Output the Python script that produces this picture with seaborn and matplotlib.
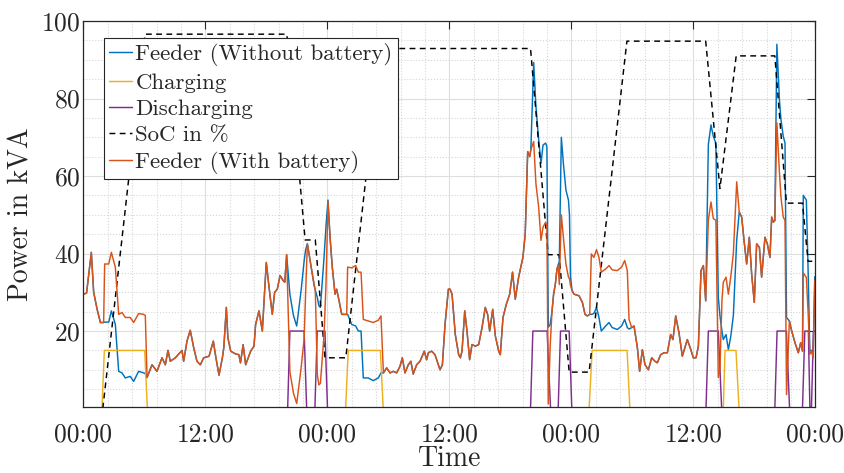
import numpy as np
import pandas as pd
import matplotlib
matplotlib.use("Agg")
import matplotlib.pyplot as plt
import seaborn as sns
from matplotlib.ticker import MultipleLocator, FixedLocator

# ---------------- data (hours since first midnight) ----------------
t_feeder = [0.0, 0.3, 0.77, 1.0, 1.35, 1.66, 1.98, 2.08, 2.48, 2.74, 3.13, 3.46, 3.79, 4.11, 4.6, 4.93,
            5.42, 5.92, 6.08, 6.25, 6.74, 7.23, 7.72, 8.05, 8.31, 8.54, 9.03, 9.69, 9.85, 10.18, 10.5,
            10.84, 11.16, 11.49, 11.82, 12.35, 12.77, 13.0, 13.33, 13.66, 13.8, 14.05, 14.2, 14.48,
            14.95, 15.28, 15.44, 15.7, 15.95, 16.44, 16.77, 16.93, 17.26, 17.59, 17.98, 18.25, 18.57,
            18.8, 19.06, 19.33, 19.65, 19.8, 19.98, 20.3, 20.65, 20.97, 21.4, 21.7, 21.85, 22.02,
            22.34, 22.67, 22.8, 23.0, 23.15, 23.3, 23.49, 23.66, 23.85, 24.05, 24.25, 24.47, 24.74,
            24.9, 25.07, 25.4, 25.72, 25.89, 25.98, 26.38, 26.77, 27.03, 27.3, 27.52, 28.0, 28.5,
            29.0, 29.26, 29.5, 29.82, 30.15, 30.48, 30.8, 31.13, 31.36, 31.62, 31.95, 32.2, 32.43,
            32.77, 33.1, 33.52, 33.75, 33.92, 34.25, 34.57, 35.07, 35.3, 35.56, 35.89, 36.05, 36.25,
            36.57, 36.9, 37.07, 37.23, 37.5, 37.72, 37.98, 38.21, 38.54, 38.87, 39.2, 39.52, 39.75,
            39.95, 40.25, 40.51, 40.84, 41.0, 41.26, 41.59, 41.92, 42.2, 42.47, 42.8, 43.22, 43.45,
            43.69, 43.89, 44.0, 44.28, 44.5, 44.77, 45.0, 45.2, 45.46, 45.58, 45.72, 45.9, 46.08,
            46.24, 46.41, 46.57, 46.69, 46.8, 47.0, 47.2, 47.45, 47.7, 47.8, 47.9, 48.05, 48.25,
            48.74, 49.07, 49.33, 49.56, 49.79, 49.95, 50.2, 50.46, 50.7, 50.93, 51.36, 51.69, 52.0,
            52.5, 52.93, 53.23, 53.49, 53.66, 53.92, 54.15, 54.48, 54.7, 54.97, 55.23, 55.56, 55.89,
            56.21, 56.44, 56.77, 57.1, 57.43, 57.75, 57.98, 58.25, 58.57, 58.9, 59.39, 59.7, 59.98,
            60.25, 60.48, 60.74, 60.97, 61.2, 61.46, 61.72, 61.95, 62.2, 62.44, 62.6, 62.8, 62.93,
            63.2, 63.43, 63.66, 63.92, 64.25, 64.5, 64.74, 64.97, 65.23, 65.49, 65.72, 65.98, 66.21,
            66.48, 66.7, 67.03, 67.26, 67.52, 67.69, 67.85, 68.0, 68.2, 68.45, 68.6, 68.83, 69.0,
            69.15, 69.43, 69.66, 69.98, 70.31, 70.54, 70.72, 70.8, 71.1, 71.27, 71.44, 71.6, 71.77,
            71.93, 72.0]

feeder_without = [29.5, 29.8, 40.3, 30.0, 25.5, 22.2, 22.2, 22.3, 22.3, 25.2, 21.7, 9.6, 9.2, 7.9, 8.3, 7.0,
                  9.6, 9.2, 9.0, 8.0, 11.3, 9.6, 13.1, 11.3, 15.0, 12.2, 13.1, 15.0, 12.2, 17.4, 20.2,
                  15.7, 12.2, 11.3, 13.1, 13.5, 17.4, 13.5, 8.6, 13.1, 15.7, 26.1, 18.3, 14.8,
                  14.1, 13.9, 11.8, 16.5, 11.3, 14.8, 16.1, 21.7, 25.2, 20.0, 37.7, 31.3, 24.3,
                  30.0, 30.8, 34.3, 33.0, 32.6, 39.7, 29.5, 24.0, 21.3, 30.4, 38.0, 41.0, 42.5,
                  37.3, 32.1, 30.5, 28.7, 26.5, 26.1, 33.0, 39.0, 47.0, 53.8, 44.2, 36.5, 29.5,
                  30.8, 28.7, 24.3, 24.3, 24.3, 24.3, 21.7, 21.3, 20.0, 20.0, 7.9, 7.9, 7.2,
                  7.9, 9.2, 9.2, 10.5, 9.2, 9.6, 9.2, 10.9, 13.1, 9.2, 11.3, 12.2, 8.9,
                  11.3, 12.2, 14.8, 12.6, 14.4, 14.8, 13.9, 10.0, 11.3, 21.7, 30.8, 30.8, 29.5,
                  19.1, 13.9, 13.1, 14.8, 25.2, 20.0, 12.6, 16.5, 16.1, 16.5, 20.9, 26.1, 24.3,
                  20.0, 25.6, 18.7, 14.8, 13.9, 23.5, 26.9, 29.5, 35.2, 28.2, 33.9, 39.0, 45.1,
                  66.3, 65.0, 66.8, 89.3, 78.0, 69.4, 63.3, 68.0, 68.5, 67.5, 21.0, 21.7, 25.0,
                  29.5, 32.1, 36.0, 37.0, 38.0, 70.0, 63.3, 56.4, 53.8, 50.0, 34.0, 30.5, 29.5,
                  29.1, 27.4, 24.3, 23.9, 24.3, 24.3, 24.5, 26.1, 23.5, 20.0, 21.3, 22.2, 20.9,
                  20.4, 21.3, 23.0, 20.9, 20.5, 20.9, 21.3, 15.7, 9.6, 15.2, 11.3, 10.0, 13.1,
                  12.2, 11.8, 13.9, 14.4, 14.4, 19.1, 17.8, 23.9, 19.6, 13.5, 17.8, 15.5, 13.1,
                  13.1, 16.1, 35.6, 36.9, 27.8, 68.1, 73.2, 70.2, 68.5, 28.7, 24.0, 20.0, 17.8,
                  19.1, 15.2, 18.5, 24.0, 43.5, 50.7, 49.4, 43.4, 37.3, 44.2, 34.7, 27.4, 42.5,
                  41.6, 33.9, 44.2, 42.5, 39.0, 49.4, 48.1, 48.5, 94.0, 79.7, 74.6, 70.2, 68.5,
                  23.5, 22.6, 20.0, 17.0, 14.4, 17.0, 14.8, 55.0, 53.8, 36.0, 15.0, 15.0, 14.0,
                  34.0, 34.0]

feeder_with = [29.5, 29.8, 40.3, 30.0, 25.5, 22.2, 22.2, 37.3, 37.3, 40.3, 36.5, 24.3, 24.8, 23.5, 23.5, 22.2,
               24.5, 24.3, 24.0, 8.0, 11.3, 9.6, 13.1, 11.3, 15.0, 12.2, 13.1, 15.0, 12.2, 17.4, 20.2,
               15.7, 12.2, 11.3, 13.1, 13.5, 17.4, 13.5, 8.6, 13.1, 15.7, 26.1, 18.3, 14.8,
               14.1, 13.9, 11.8, 16.5, 11.3, 14.8, 16.1, 21.7, 25.2, 20.0, 37.7, 31.3, 24.3,
               30.0, 30.8, 34.3, 33.0, 32.6, 39.7, 9.5, 4.0, 1.3, 10.4, 18.0, 30.0, 42.5,
               37.3, 32.1, 30.5, 8.7, 6.1, 6.5, 13.0, 19.0, 32.0, 53.3, 44.2, 36.5, 29.5,
               30.8, 28.7, 24.3, 24.3, 24.3, 36.5, 36.3, 36.9, 35.2, 35.2, 23.0, 22.6, 22.2,
               22.8, 23.9, 9.2, 10.5, 9.2, 9.6, 9.2, 10.9, 13.1, 9.2, 11.3, 12.2, 8.9,
               11.3, 12.2, 14.8, 12.6, 14.4, 14.8, 13.9, 10.0, 11.3, 21.7, 30.8, 30.8, 29.5,
               19.1, 13.9, 13.1, 14.8, 25.2, 20.0, 12.6, 16.5, 16.1, 16.5, 20.9, 26.1, 24.3,
               20.0, 25.6, 18.7, 14.8, 13.9, 23.5, 26.9, 29.5, 35.2, 28.2, 33.9, 39.0, 45.1,
               66.3, 65.0, 66.8, 68.9, 58.0, 52.0, 43.4, 46.8, 48.1, 47.0, 1.2, 16.0, 25.0,
               29.5, 32.1, 36.0, 37.0, 32.0, 50.0, 44.2, 37.3, 33.9, 33.5, 31.8, 30.5, 29.5,
               29.1, 27.4, 24.3, 23.9, 24.3, 39.9, 39.0, 41.0, 39.0, 35.2, 36.0, 36.9, 35.8,
               35.6, 36.5, 38.2, 35.6, 23.0, 20.9, 21.3, 15.7, 9.6, 15.2, 11.3, 10.0, 13.1,
               12.2, 11.8, 13.9, 14.4, 14.4, 19.1, 17.8, 23.9, 19.6, 13.5, 17.8, 15.5, 13.1,
               13.1, 16.1, 35.6, 36.9, 27.8, 48.6, 53.3, 49.0, 48.6, 8.0, 10.0, 28.0, 32.6,
               33.9, 29.5, 33.9, 40.0, 58.5, 50.7, 49.4, 43.4, 37.3, 44.2, 34.7, 27.4, 42.5,
               41.6, 33.9, 44.2, 42.5, 39.0, 49.4, 48.1, 48.5, 73.7, 61.0, 54.6, 49.4, 48.5,
               3.6, 22.6, 20.0, 17.0, 14.4, 17.0, 14.8, 35.0, 33.8, 25.0, 14.0, 14.8, 13.1,
               33.0, 33.0]

t_charge = [0.0, 1.82, 2.05, 6.02, 6.28, 25.78, 26.04, 29.2, 29.48, 49.73, 50.03, 53.47, 53.74,
            62.93, 63.1, 64.18, 64.48, 72.0]
charging = [0, 0, 15, 15, 0, 0, 15, 15, 0, 0, 15, 15, 0, 0, 15, 15, 0, 0]

t_discharge = [0.0, 20.08, 20.3, 21.7, 21.95, 22.76, 22.99, 23.75, 24.0, 43.97, 44.2, 45.6, 45.94,
               46.69, 46.92, 47.77, 48.03, 61.23, 61.46, 62.44, 62.77, 68.0, 68.22, 69.14, 69.45,
               70.72, 70.95, 71.3, 71.45, 71.6, 71.8, 72.0]
discharging = [0, 0, 20, 20, 0, 0, 20, 20, 0, 0, 20, 20, 0, 0, 20, 20, 0, 0, 20, 20, 0, 0, 20, 20, 0,
               0, 20, 20, 0, 0, 20, 20]

t_soc = [1.9, 6.05, 20.0, 21.8, 22.8, 23.75, 25.8, 29.2, 43.97, 45.7, 46.78, 47.77, 49.73, 53.45,
         61.2, 62.6, 64.2, 68.0, 69.14, 70.72, 71.27, 72.0]
soc = [0, 96.6, 96.6, 43.5, 43.5, 13.1, 13.1, 92.9, 92.9, 39.7, 39.7, 9.4, 9.4, 94.8,
       94.8, 56.8, 91.0, 91.0, 53.0, 53.0, 38.0, 38.0]

tick_hours = [0, 12, 24, 36, 48, 60, 72]
tick_labels = ["00:00", "12:00", "00:00", "12:00", "00:00", "12:00", "00:00"]
y_ticks = [20, 40, 60, 80, 100]

# ---------------- style ----------------
sns.set_theme(style="white")
plt.rcParams["font.family"] = ["cmr10", "DejaVu Serif"]
plt.rcParams["axes.formatter.use_mathtext"] = True
plt.rcParams["mathtext.fontset"] = "cm"

C_BLUE, C_YEL, C_PUR, C_ORA, C_AX = "#0072BD", "#EDB120", "#7E2F8E", "#D95319", "#262626"

fig = plt.figure(figsize=(8.45, 4.73), dpi=100)
ax = fig.add_axes([83.5 / 845, 1 - 407 / 473, 732 / 845, 386 / 473])

lw = 1.05
sns.lineplot(x=t_feeder, y=feeder_without, ax=ax, color=C_BLUE, lw=lw, estimator=None, sort=False,
             label="Feeder (Without battery)")
sns.lineplot(x=t_charge, y=charging, ax=ax, color=C_YEL, lw=lw, estimator=None, sort=False,
             label="Charging")
sns.lineplot(x=t_discharge, y=discharging, ax=ax, color=C_PUR, lw=lw, estimator=None, sort=False,
             label="Discharging")
sns.lineplot(x=t_soc, y=soc, ax=ax, color="black", lw=lw, estimator=None, sort=False,
             label="SoC in %", dashes=False)
ax.lines[-1].set_dashes((4, 3))
sns.lineplot(x=t_feeder, y=feeder_with, ax=ax, color=C_ORA, lw=lw, estimator=None, sort=False,
             label="Feeder (With battery)")

ax.set_xlim(0, 72)
ax.set_ylim(0.4, 100)
ax.xaxis.set_major_locator(FixedLocator(tick_hours))
ax.set_xticklabels(tick_labels)
ax.yaxis.set_major_locator(FixedLocator(y_ticks))
ax.xaxis.set_minor_locator(MultipleLocator(2.4))
ax.yaxis.set_minor_locator(MultipleLocator(5))

ax.grid(which="major", color="#dedede", lw=0.8, ls="-")
ax.grid(which="minor", color="#d6d6d6", lw=0.8, ls=":")
ax.set_axisbelow(True)

ax.tick_params(which="major", direction="in", length=6, width=0.8, top=True, right=True,
               labelsize=18.4, colors=C_AX)
ax.tick_params(axis="x", which="major", pad=11)
ax.tick_params(axis="y", which="major", pad=2)
ax.tick_params(which="minor", length=0)
for s in ax.spines.values():
    s.set_color(C_AX)
    s.set_linewidth(0.9)

ax.set_xlabel("Time", fontsize=20, color=C_AX, labelpad=0)
ax.set_ylabel("Power in kVA", fontsize=20, color=C_AX, labelpad=5)

leg = ax.legend(loc="upper left", bbox_to_anchor=(0.028, 0.955), fontsize=16.5, frameon=True,
                fancybox=False, edgecolor=C_AX, framealpha=1, handlelength=1.0,
                handletextpad=0.15, borderpad=0.22, labelspacing=0.27, borderaxespad=0)
leg.get_frame().set_linewidth(0.8)

fig.savefig("out.png", dpi=100)
